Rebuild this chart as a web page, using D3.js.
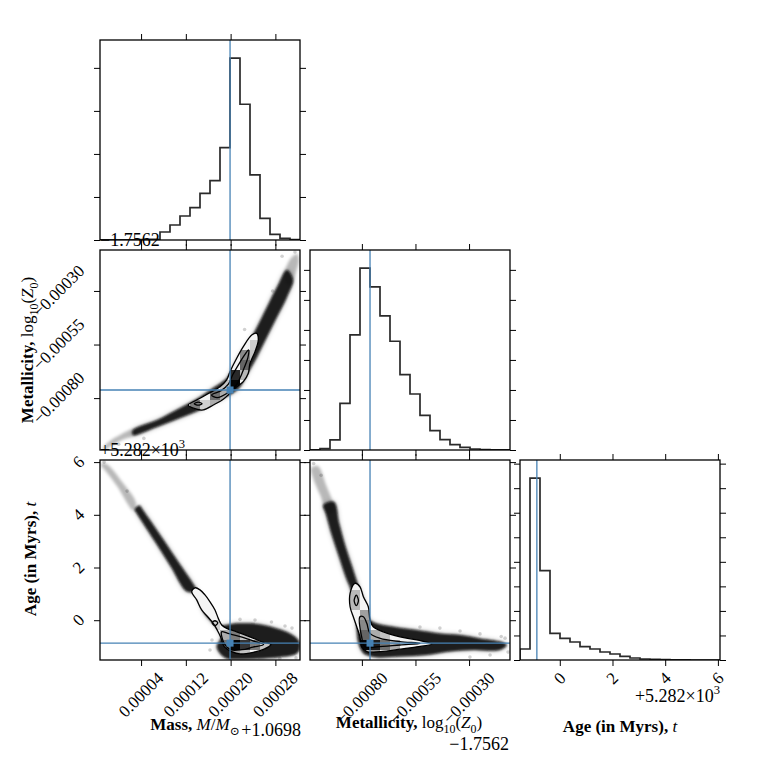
<!DOCTYPE html>
<html>
<head>
<meta charset="utf-8">
<script src="https://cdn.jsdelivr.net/npm/d3@7"></script>
<style>
  body { margin: 0; background: #fff; }
  text { font-family: "Liberation Serif", "DejaVu Serif", serif; fill: #000; }
</style>
</head>
<body>
<svg id="chart" width="760" height="760"></svg>
<script>
// axis ranges, in units of 1e-5 for mass and metallicity (offsets shown as text)
const massRange = [-3.34, 32.40]
const metRange = [-104.2, -10.9]
const ageRange = [-1.51, 6.08]
const nBins = 20

const massTicks = [4, 12, 20, 28]
const metTicks = [-80, -55, -30]
const ageTicks = [0, 2, 4, 6]

const massTruth = 19.9
const metTruth = -76.2
const ageTruth = -0.87

const massOffsetText = '+1.0698'
const metOffsetText = '\u22121.7562'
const ageOffsetText = ['+5.282\u00d710', '3']

// 1d histograms (sample counts per bin)
const massCounts = [1, 2, 3, 6, 10, 18, 186, 349, 558, 752, 1085, 1380, 2147, 4225, 3155, 1512, 504, 132, 39, 8]
const metCounts = [1, 22, 167, 778, 1917, 3028, 2717, 2233, 1811, 1256, 933, 578, 322, 172, 89, 44, 17, 6, 2, 1]
const ageCounts = [448, 7407, 3642, 1087, 883, 734, 544, 448, 326, 245, 150, 82, 41, 27, 14, 6, 3, 1, 1, 0]
const massCountTicks = [0, 1000, 2000, 3000, 4000]
const metCountTicks = [0, 500, 1000, 1500, 2000, 2500, 3000]
const ageCountTicks = [0, 1000, 2000, 3000, 4000, 5000, 6000, 7000, 8000]

// mass vs metallicity
const mmTail = [[[-2.80, -103.3], [-1.55, -100.0], [0.23, -97.2], [2.91, -94.4], [3.27, -96.7], [0.59, -99.5], [-1.37, -102.3], [-2.63, -104.2]],
  [[29.54, -22.6], [30.08, -17.9], [30.97, -14.2], [31.86, -12.8], [32.22, -15.6], [31.69, -21.2], [30.97, -26.8], [30.25, -27.2]]]
const mmCloud = [[2.56, -94.9], [6.85, -90.2], [10.96, -84.6], [14.53, -79.5], [16.85, -75.3], [19.35, -70.6], [20.43, -65.5],
  [21.68, -59.9], [23.46, -52.9], [24.72, -46.8], [26.50, -37.5], [28.29, -28.2], [30.08, -20.2],
  [31.15, -24.9], [30.08, -32.8], [28.29, -42.2], [26.50, -51.5], [24.72, -60.8], [23.11, -68.3], [21.68, -74.8],
  [20.43, -77.6], [16.85, -82.3], [14.53, -85.5], [10.96, -89.3], [6.85, -93.5], [2.56, -97.2]]
const mmPoints = [[0.0, -101.5], [4.5, -98.8], [29.2, -13.8], [31.5, -11.8], [27.5, -30], [22.5, -48]]
const mmOuter = [[12.44, -83.2], [13.94, -80.9], [16.32, -77.5], [18.10, -74.7], [19.30, -71.5], [19.89, -67.7], [21.09, -61.4],
  [22.27, -56.0], [23.77, -50.6], [24.66, -49.8], [24.95, -52.9], [24.36, -58.3], [23.46, -63.8], [23.16, -68.4],
  [22.27, -72.3], [21.09, -74.7], [19.89, -77.7], [18.69, -80.5], [16.91, -83.2], [15.12, -85.5], [13.33, -84.7]]
const mmInner = [[[16.6, -78.5], [18.3, -76.5], [19.6, -73.5], [20.4, -69], [21.5, -64], [22.6, -59.5], [23.2, -57.5],
  [23.1, -61], [22.4, -66], [21.7, -70.5], [21.0, -74], [19.5, -77.5], [17.6, -79.8]],
  [[13.5, -82.6], [14.2, -81.9], [14.9, -82.6], [14.2, -83.3]]]
const mmCells = [[9, 4, 0.5], [10, 4, 0.15], [11, 5, 0.55], [12, 5, 0.3], [12, 6, 0.2], [13, 6, 1.0], [13, 7, 0.85],
  [14, 7, 0.25], [14, 8, 0.6], [14, 9, 0.45], [15, 10, 0.15], [13, 5, 0.8], [11, 4, 0.3], [15, 9, 0.2]]

// mass vs age
const maTail = [[[-2.98, 5.97], [-1.91, 5.89], [0.59, 5.25], [3.09, 4.45], [2.56, 4.18], [-0.30, 5.09], [-2.63, 5.74], [-3.16, 5.85]]]
const maCloud = [[3.72, 4.35], [4.33, 4.18], [7.97, 3.06], [10.72, 2.19], [13.48, 1.33], [16.3, 0.3],
  [17.51, -0.18], [21.09, -0.12], [23.46, -0.12], [25.84, -0.18], [28.24, -0.31], [30.61, -0.50], [32.10, -0.75],
  [32.40, -1.01], [31.81, -1.26], [29.42, -1.38], [25.84, -1.45], [22.27, -1.48], [19.30, -1.45], [18.10, -1.26],
  [17.51, -1.01], [18.3, -0.6], [15.2, 0.3], [13.7, 1.0], [12.01, 1.11], [9.40, 2.00], [6.79, 2.88], [3.29, 4.03], [2.83, 4.20]]
const maPoints = [[30.97, -0.30], [29.72, -0.22], [27.30, -0.07], [24.36, 0.01], [21.68, 0.03], [31.69, -1.43],
  [32.04, -1.13], [16.32, -1.13], [16.67, -0.75], [28.8, -1.45], [-2.6, 6.0], [1.5, 4.9]]
const maOuter = [[13.05, 1.08], [13.94, 0.77], [14.83, 0.39], [15.9, 0.13], [16.9, -0.12], [17.6, -0.37], [18.2, -0.63],
  [18.9, -1.01], [20.2, -1.19], [21.68, -1.28], [24.05, -1.22], [26.0, -1.1], [27.2, -0.92], [25.84, -0.84],
  [23.46, -0.63], [21.09, -0.44], [19.30, -0.31], [18.41, -0.18], [17.80, 0.07], [17.21, 0.39], [16.32, 0.70],
  [15.42, 0.96], [14.53, 1.15], [13.64, 1.23]]
const maInner = [[[18.4, -0.44], [19.5, -0.5], [21.7, -0.62], [24, -0.78], [25.9, -0.92], [24, -1.02], [22, -1.12], [20, -1.12], [18.9, -0.9]],
  [[16.7, -0.1], [17.2, -0.02], [17.7, -0.1], [17.2, -0.2]]]
const maCells = [[12, 2, 0.3], [13, 1, 1.0], [14, 1, 0.8], [15, 1, 0.5], [13, 2, 0.5], [12, 1, 0.55], [14, 0, 0.2],
  [11, 3, 0.15], [16, 1, 0.2], [14, 2, 0.2], [13, 0, 0.35]]

// metallicity vs age
const zaTail = [[[-103.7, 5.78], [-100.5, 5.85], [-96.7, 5.13], [-93.0, 4.18], [-95.8, 4.03], [-99.5, 4.75], [-102.8, 5.40]]]
const zaCloud = [[-98.0, 4.37], [-96.9, 4.06], [-93.8, 3.17], [-90.7, 2.41], [-87.6, 1.65], [-85.2, 1.15], [-83.0, 0.2],
  [-81.5, -0.9], [-79.3, -1.25], [-77.7, -1.32], [-73.1, -1.41], [-62.2, -1.38], [-49.8, -1.32], [-38.9, -1.19],
  [-28.0, -1.13], [-15.6, -1.13], [-12.4, -0.94], [-15.6, -0.81], [-24.9, -0.69], [-34.2, -0.56], [-43.6, -0.50],
  [-54.4, -0.37], [-65.3, -0.25], [-76.2, 0.01], [-78.3, 0.6], [-82.0, 1.40], [-84.5, 2.03], [-87.6, 2.79],
  [-90.6, 3.68], [-93.0, 4.49]]
const zaPoints = [[-13.2, -0.68], [-11.8, -1.21], [-20.2, -1.32], [-29.6, -1.40], [-52.9, -0.26], [-43.6, -0.30],
  [-34.2, -0.41], [-24.9, -0.52], [-15.0, -0.62], [-102.5, 5.95], [-99.0, 5.5], [-8.5, -1.0]]
const zaOuter = [[-83.2, 1.40], [-85.5, 1.02], [-85.5, 0.51], [-84.0, 0.13], [-82.4, -0.25], [-80.9, -0.63], [-80.1, -1.01],
  [-77.7, -1.19], [-71.5, -1.19], [-62.2, -1.10], [-54.4, -1.01], [-47.4, -0.90], [-54.4, -0.75], [-62.2, -0.63],
  [-70.0, -0.44], [-74.7, -0.25], [-76.2, 0.01], [-77.0, 0.51], [-79.3, 0.89], [-80.9, 1.27]]
const zaInner = [[[-80.9, 0.13], [-80.1, -0.63], [-78.5, -1.01], [-73.1, -1.01], [-62.2, -0.94], [-52.9, -0.88], [-62.2, -0.81],
  [-71.5, -0.69], [-76.2, -0.50], [-77.7, -0.12], [-79.3, 0.13]],
  [[-83.6, 0.75], [-82.6, 0.95], [-81.6, 0.75], [-82.6, 0.55]]]
const zaCells = [[4, 6, 0.25], [4, 5, 0.25], [5, 4, 0.35], [5, 3, 0.45], [5, 2, 0.6], [5, 1, 1.0], [6, 1, 0.9], [7, 1, 0.55],
  [6, 2, 0.3], [8, 1, 0.3], [4, 2, 0.2], [4, 1, 0.35], [5, 0, 0.3], [6, 0, 0.4], [7, 2, 0.2]]

// ---------------------------------------------------------------------------
const panelSize = 200, gap = 10, left0 = 100, top0 = 40
const tickFont = 17, labelFont = 17, offsetFont = 18
const truthColor = '#4682b4'

const svg = d3.select('#chart')
const defs = svg.append('defs')
function blur(id, sd) {
  defs.append('filter').attr('id', id).attr('x', '-20%').attr('y', '-20%').attr('width', '140%').attr('height', '140%')
    .append('feGaussianBlur').attr('stdDeviation', sd)
}
blur('soft', 1.0)
blur('halo', 2.6)
blur('softer', 1.6)

const xMass = d3.scaleLinear().domain(massRange).range([0, panelSize])
const xMet = d3.scaleLinear().domain(metRange).range([0, panelSize])
const xAge = d3.scaleLinear().domain(ageRange).range([0, panelSize])
const yMet = d3.scaleLinear().domain(metRange).range([panelSize, 0])
const yAge = d3.scaleLinear().domain(ageRange).range([panelSize, 0])

const fmt5 = v => d3.format('.5f')(v * 1e-5)
const fmtInt = d3.format('d')
const shade = d3.scaleLinear().domain([0, 1]).range(['#f3f3f3', '#050505'])

const edges = r => d3.range(nBins + 1).map(i => r[0] + i * (r[1] - r[0]) / nBins)

function panel(row, col) {
  const id = `clip-${row}-${col}`
  defs.append('clipPath').attr('id', id).append('rect').attr('width', panelSize).attr('height', panelSize)
  const g = svg.append('g').attr('transform', `translate(${left0 + col * (panelSize + gap)},${top0 + row * (panelSize + gap)})`)
  const inner = g.append('g').attr('clip-path', `url(#${id})`)
  return { g, inner }
}

function ticks(g, x, xt, y, yt) {
  const axes = [
    [d3.axisBottom(x), xt, `translate(0,${panelSize})`],
    [d3.axisTop(x), xt, 'translate(0,0)'],
    [d3.axisLeft(y), yt, 'translate(0,0)'],
    [d3.axisRight(y), yt, `translate(${panelSize},0)`]
  ]
  axes.forEach(([ax, vals, tr]) => {
    const a = g.append('g').attr('transform', tr)
      .call(ax.tickValues(vals).tickSize(6).tickFormat(''))
    a.select('.domain').remove()
    a.selectAll('line').attr('stroke', '#000').attr('stroke-width', 1)
  })
  g.append('rect').attr('width', panelSize).attr('height', panelSize)
    .attr('fill', 'none').attr('stroke', '#000').attr('stroke-width', 1.3)
}

function xTickLabels(g, x, values, fmt) {
  values.forEach(v => {
    const t = g.append('text').text(fmt(v)).attr('font-size', tickFont)
      .attr('text-anchor', 'middle').attr('dominant-baseline', 'central')
    const half = (t.node().getComputedTextLength() + tickFont * 0.72) * Math.SQRT1_2 / 2
    t.attr('transform', `translate(${x(v)},${panelSize + 11 + half}) rotate(-45)`)
  })
}

function yTickLabels(g, y, values, fmt) {
  values.forEach(v => {
    const t = g.append('text').text(fmt(v)).attr('font-size', tickFont)
      .attr('text-anchor', 'middle').attr('dominant-baseline', 'central')
    const half = (t.node().getComputedTextLength() + tickFont * 0.72) * Math.SQRT1_2 / 2
    t.attr('transform', `translate(${-14 - half},${y(v)}) rotate(-45)`)
  })
}

function rich(text, parts, size) {
  let shift = 0
  parts.forEach(p => {
    const target = p.sub ? size * 0.3 : p.sup ? -size * 0.42 : 0
    const ts = text.append('tspan').text(p.t).attr('dy', target - shift)
    shift = target
    if (p.sub || p.sup) ts.attr('font-size', size * 0.7)
    if (p.bold) ts.attr('font-weight', 'bold')
    if (p.it) ts.attr('font-style', 'italic')
  })
  return text
}

function histPanel(row, col, x, range, counts, countTicks, xt, truth) {
  const { g, inner } = panel(row, col)
  const y = d3.scaleLinear().domain([0, 1.1 * d3.max(counts)]).range([panelSize, 0])
  const e = edges(range)
  const pts = [[e[0], 0]]
  counts.forEach((c, i) => pts.push([e[i], c], [e[i + 1], c]))
  pts.push([e[nBins], 0])
  inner.append('path')
    .attr('d', d3.line().x(d => x(d[0])).y(d => y(d[1]))(pts))
    .attr('fill', 'none').attr('stroke', '#2a2a2a').attr('stroke-width', 1.7)
  inner.append('line').attr('x1', x(truth)).attr('x2', x(truth)).attr('y1', 0).attr('y2', panelSize)
    .attr('stroke', truthColor).attr('stroke-width', 1.3)
  ticks(g, x, xt, y, countTicks)
  return g
}

function pairPanel(row, col, x, y, xr, yr, xt, yt, tx, ty, tails, cloud, points, outer, innerLines, cells) {
  const { g, inner } = panel(row, col)
  const line = d3.line().x(d => x(d[0])).y(d => y(d[1])).curve(d3.curveCatmullRomClosed.alpha(0.5))
  inner.append('g').attr('filter', 'url(#softer)').selectAll('path').data(tails).join('path')
    .attr('d', line).attr('fill', '#000').attr('fill-opacity', 0.28)
  inner.append('g').selectAll('circle').data(points).join('circle')
    .attr('cx', d => x(d[0])).attr('cy', d => y(d[1])).attr('r', 1.8)
    .attr('fill', '#000').attr('fill-opacity', 0.18)
  // fuzzy fringe of the sample cloud, then its dense core
  inner.append('path').attr('d', line(cloud)).attr('fill', '#000').attr('fill-opacity', 0.35)
    .attr('filter', 'url(#halo)')
  inner.append('path').attr('d', line(cloud)).attr('fill', '#0b0b0b').attr('fill-opacity', 0.9)
    .attr('filter', 'url(#soft)')

  const cid = `contour-${row}-${col}`
  defs.append('clipPath').attr('id', cid).append('path').attr('d', line(outer))
  inner.append('path').attr('d', line(outer)).attr('fill', '#f4f4f4')
  const xe = edges(xr), ye = edges(yr)
  inner.append('g').attr('clip-path', `url(#${cid})`).selectAll('rect').data(cells).join('rect')
    .attr('x', d => x(xe[d[0]])).attr('width', d => x(xe[d[0] + 1]) - x(xe[d[0]]))
    .attr('y', d => y(ye[d[1] + 1])).attr('height', d => y(ye[d[1]]) - y(ye[d[1] + 1]))
    .attr('fill', d => shade(d[2]))
  inner.append('g').selectAll('path').data(innerLines).join('path')
    .attr('d', line).attr('fill', 'none').attr('stroke', '#000').attr('stroke-width', 1.3)
  inner.append('path').attr('d', line(outer)).attr('fill', 'none').attr('stroke', '#000').attr('stroke-width', 1.3)

  inner.append('line').attr('x1', x(tx)).attr('x2', x(tx)).attr('y1', 0).attr('y2', panelSize)
    .attr('stroke', truthColor).attr('stroke-width', 1.3)
  inner.append('line').attr('y1', y(ty)).attr('y2', y(ty)).attr('x1', 0).attr('x2', panelSize)
    .attr('stroke', truthColor).attr('stroke-width', 1.3)
  inner.append('rect').attr('x', x(tx) - 3.5).attr('y', y(ty) - 3.5).attr('width', 7).attr('height', 7)
    .attr('fill', truthColor)
  ticks(g, x, xt, y, yt)
  return g
}

// diagonal
histPanel(0, 0, xMass, massRange, massCounts, massCountTicks, massTicks, massTruth)
histPanel(1, 1, xMet, metRange, metCounts, metCountTicks, metTicks, metTruth)
const gAgeHist = histPanel(2, 2, xAge, ageRange, ageCounts, ageCountTicks, ageTicks, ageTruth)

// off-diagonal
const gMM = pairPanel(1, 0, xMass, yMet, massRange, metRange, massTicks, metTicks, massTruth, metTruth,
  mmTail, mmCloud, mmPoints, mmOuter, mmInner, mmCells)
const gMA = pairPanel(2, 0, xMass, yAge, massRange, ageRange, massTicks, ageTicks, massTruth, ageTruth,
  maTail, maCloud, maPoints, maOuter, maInner, maCells)
const gZA = pairPanel(2, 1, xMet, yAge, metRange, ageRange, metTicks, ageTicks, metTruth, ageTruth,
  zaTail, zaCloud, zaPoints, zaOuter, zaInner, zaCells)

// tick labels
yTickLabels(gMM, yMet, metTicks, fmt5)
yTickLabels(gMA, yAge, ageTicks, fmtInt)
xTickLabels(gMA, xMass, massTicks, fmt5)
xTickLabels(gZA, xMet, metTicks, fmt5)
xTickLabels(gAgeHist, xAge, ageTicks, fmtInt)

// offset texts
svg.append('text').attr('x', 100).attr('y', 246).attr('font-size', offsetFont).text(metOffsetText)
rich(svg.append('text').attr('x', 100).attr('y', 456).attr('font-size', offsetFont),
  [{ t: ageOffsetText[0] }, { t: ageOffsetText[1], sup: true }], offsetFont)
svg.append('text').attr('x', 301).attr('y', 736).attr('text-anchor', 'end').attr('font-size', offsetFont).text(massOffsetText)
svg.append('text').attr('x', 509).attr('y', 750).attr('text-anchor', 'end').attr('font-size', offsetFont).text(metOffsetText)
rich(svg.append('text').attr('x', 720).attr('y', 702).attr('text-anchor', 'end').attr('font-size', offsetFont),
  [{ t: ageOffsetText[0] }, { t: ageOffsetText[1], sup: true }], offsetFont)

// axis labels
const massLabel = [{ t: 'Mass, ', bold: true }, { t: 'M', it: true }, { t: '/' }, { t: 'M', it: true }, { t: '\u2299', sub: true }]
const metLabel = [{ t: 'Metallicity, ', bold: true }, { t: 'log' }, { t: '10', sub: true }, { t: '(' }, { t: 'Z', it: true }, { t: '0', sub: true }, { t: ')' }]
const ageLabel = [{ t: 'Age (in Myrs), ', bold: true }, { t: 't', it: true }]

rich(svg.append('text').attr('x', 195).attr('y', 730).attr('text-anchor', 'middle').attr('font-size', labelFont), massLabel, labelFont)
rich(svg.append('text').attr('x', 409).attr('y', 728).attr('text-anchor', 'middle').attr('font-size', labelFont), metLabel, labelFont)
rich(svg.append('text').attr('x', 620).attr('y', 732).attr('text-anchor', 'middle').attr('font-size', labelFont), ageLabel, labelFont)
rich(svg.append('text').attr('transform', 'translate(33,350) rotate(-90)').attr('text-anchor', 'middle').attr('font-size', labelFont), metLabel, labelFont)
rich(svg.append('text').attr('transform', 'translate(36,559) rotate(-90)').attr('text-anchor', 'middle').attr('font-size', labelFont), ageLabel, labelFont)
</script>
</body>
</html>
